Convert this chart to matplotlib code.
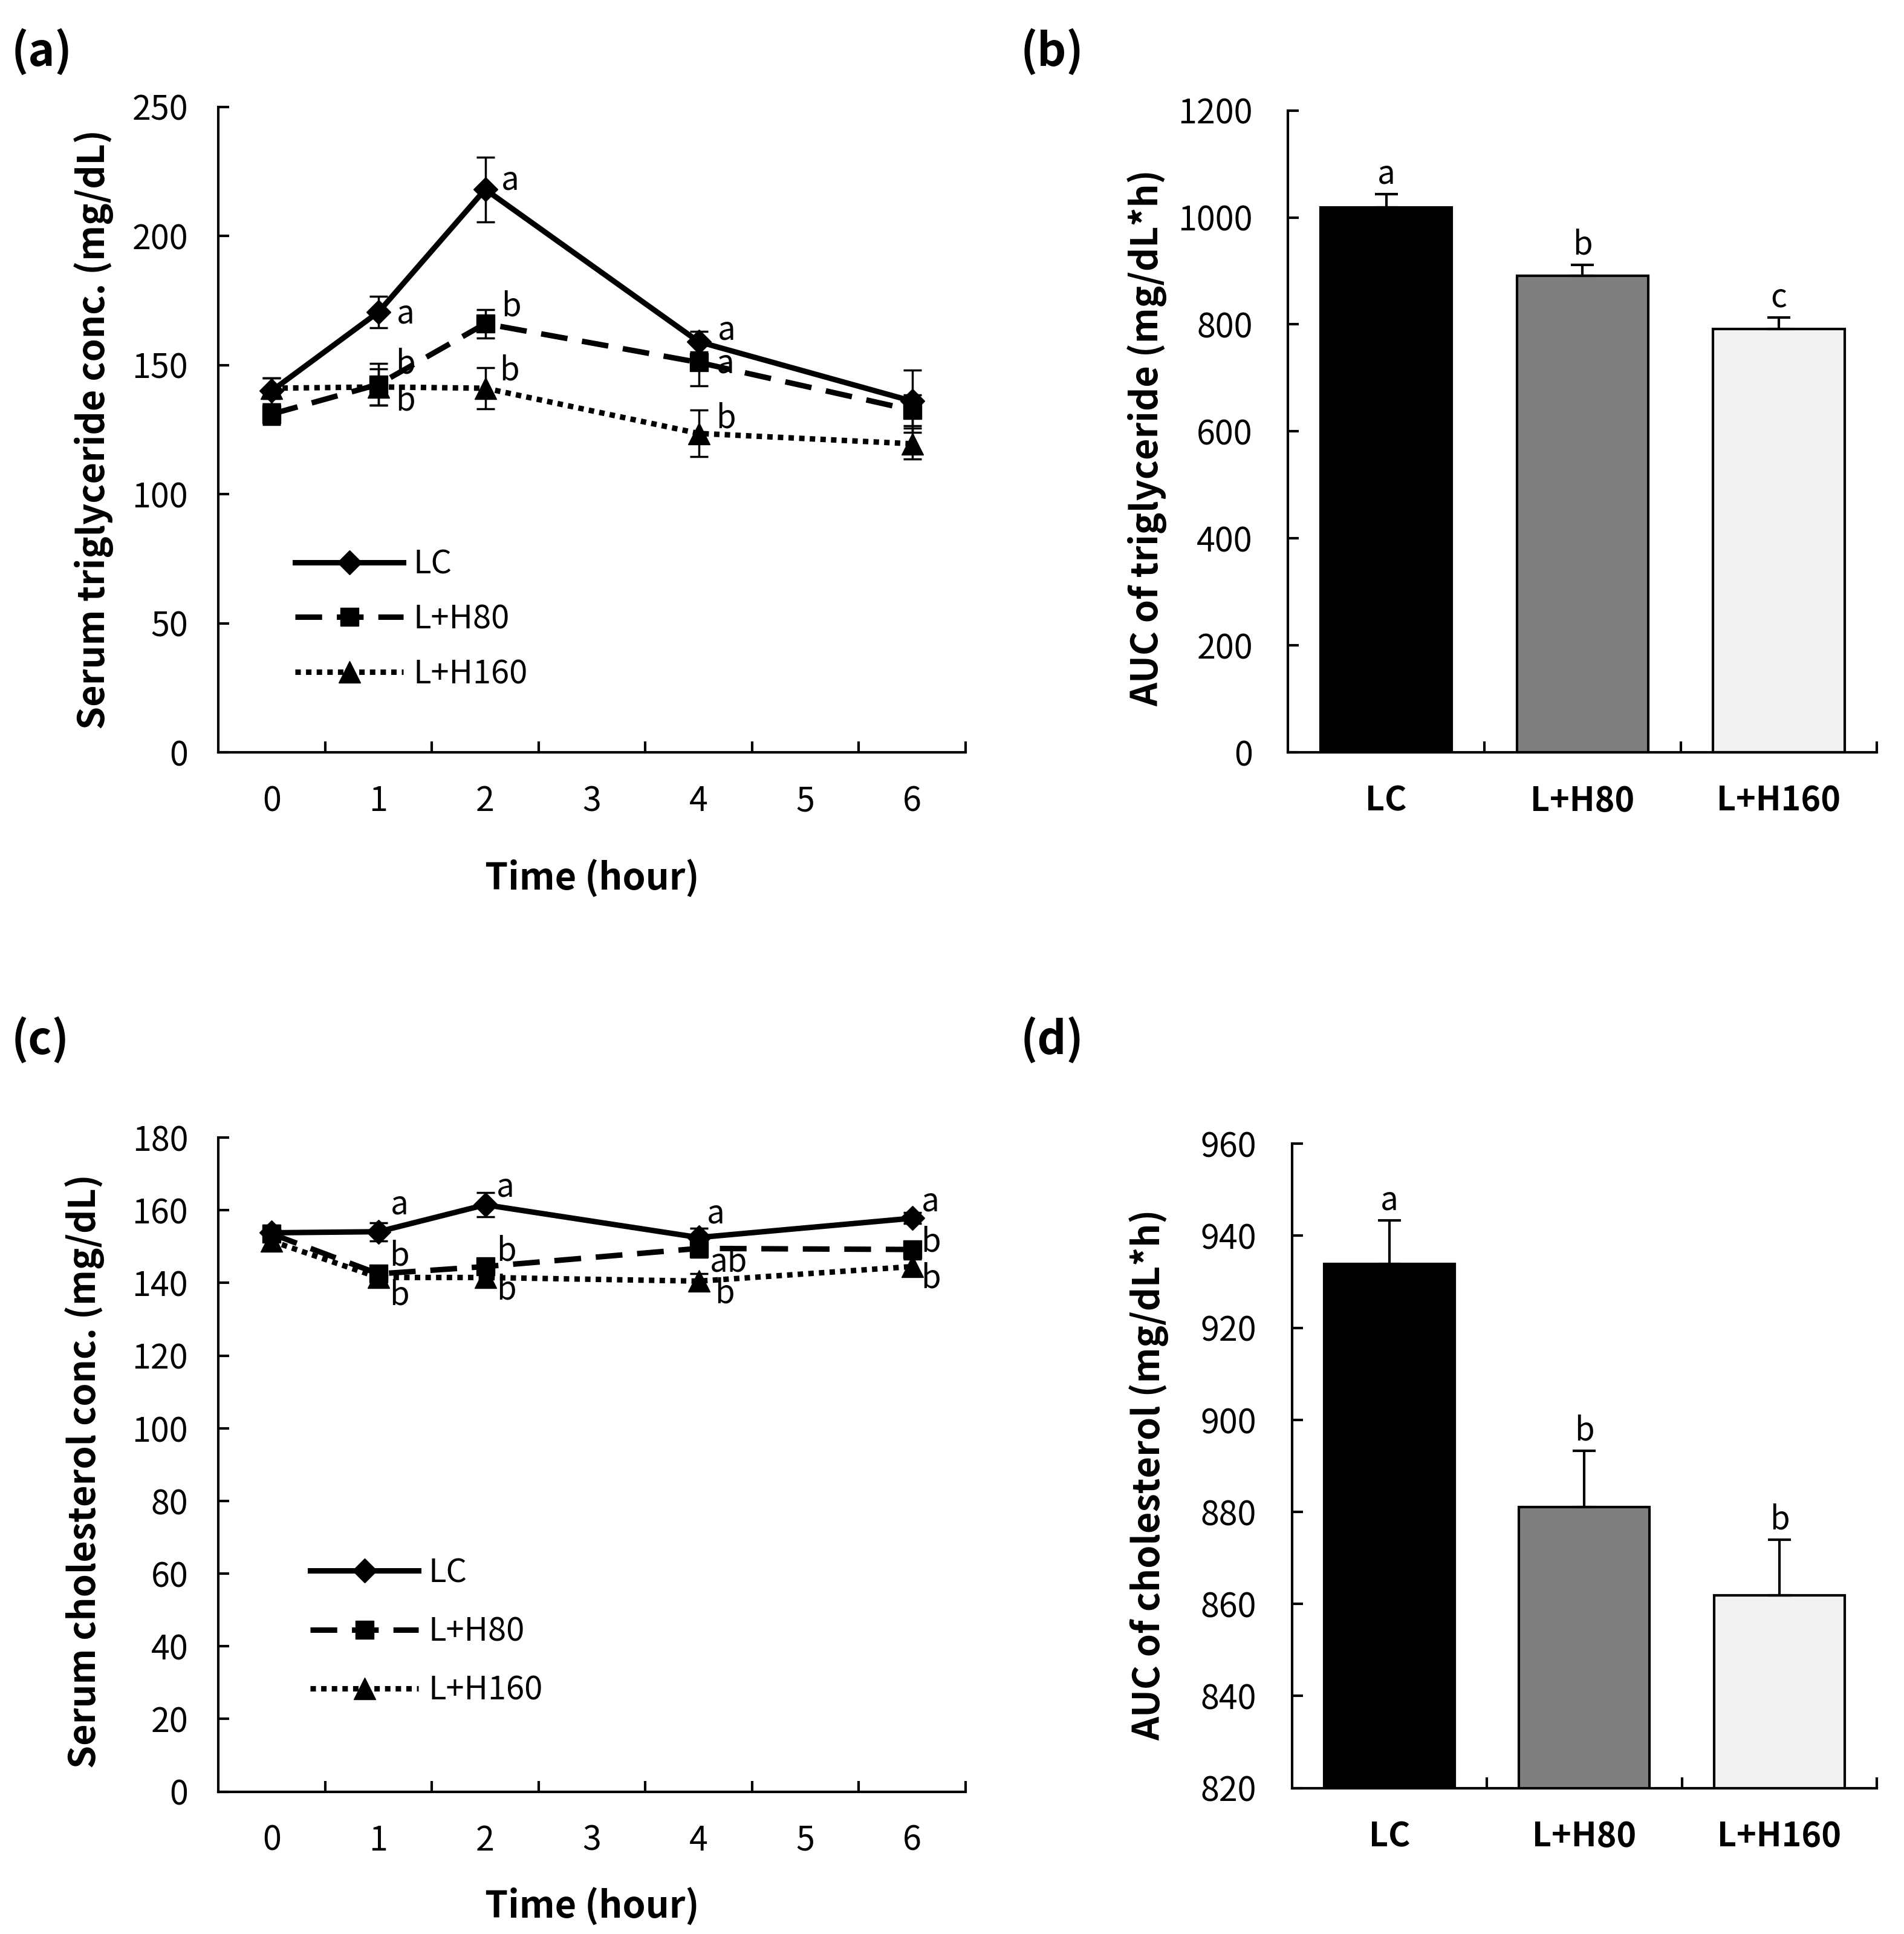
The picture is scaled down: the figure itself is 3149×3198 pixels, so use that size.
import matplotlib
matplotlib.use("Agg")
import matplotlib.pyplot as plt
import numpy as np

plt.rcParams['font.family'] = ['Noto Sans CJK KR', 'DejaVu Sans']

# ---------------- data ----------------
time_labels = ["0", "1", "2", "3", "4", "5", "6"]
time_idx = [0, 1, 2, 4, 6]          # category positions of sampled hours
groups = ["LC", "L+H80", "L+H160"]

tg_lc = [140, 170.5, 218, 159, 136]
tg_lc_err = [5, 6, 12.5, 4, 12]
tg_h80 = [131, 142.5, 166, 151, 132.5]
tg_h80_err = [4, 8, 5.5, 9, 6]
tg_h160 = [141, 141.5, 141, 123.5, 119.5]
tg_h160_err = [4, 7, 8, 9, 6]

tg_auc = [1019, 891, 791]
tg_auc_err = [25, 20, 22]
tg_auc_letters = ["a", "b", "c"]

ch_lc = [153.8, 154.1, 161.5, 152.5, 157.8]
ch_lc_err = [2, 2.5, 3.3, 2.5, 1.5]
ch_h80 = [153.5, 142.5, 144.5, 149.5, 149.2]
ch_h80_err = [2, 2, 2, 2.5, 2]
ch_h160 = [151.5, 141.5, 141.5, 140.5, 144.5]
ch_h160_err = [2, 2, 2, 2, 2]

ch_auc = [933.9, 881.0, 861.8]
ch_auc_err = [9.4, 12.3, 12.1]
ch_auc_letters = ["a", "b", "b"]

# significance letters for line charts: (series, time index position, letter, dx pt, dy pt)
tg_letters = [
    ("LC", 1, "a", 32, -2), ("LC", 2, "a", 30, 11), ("LC", 3, "a", 33, 14),
    ("L+H80", 1, "b", 32, 24), ("L+H80", 2, "b", 31, 20), ("L+H80", 3, "a", 32, -1),
    ("L+H160", 1, "b", 32, -17), ("L+H160", 2, "b", 29, 21), ("L+H160", 3, "b", 32, 18),
]
ch_letters = [
    ("LC", 1, "a", 25, 32), ("LC", 2, "a", 24, 21), ("LC", 3, "a", 20, 28), ("LC", 4, "a", 22, 20),
    ("L+H80", 1, "b", 25, 21), ("L+H80", 2, "b", 25, 18), ("L+H80", 3, "ab", 36, -16), ("L+H80", 4, "b", 22, 9),
    ("L+H160", 1, "b", 25, -21), ("L+H160", 2, "b", 25, -15), ("L+H160", 3, "b", 31, -15), ("L+H160", 4, "b", 22, -14),
]

bar_colors = ["#000000", "#7f7f7f", "#f2f2f2"]

# ---------------- style ----------------
TICK_FS = 40
BAR_XTICK_FS = 42
LABEL_FS = 44
LETTER_FS = 38
LEGEND_FS = 39
PANEL_FS = 54
LW = 6.5
styles = {
    "LC": dict(linestyle="-", marker="D", markersize=20),
    "L+H80": dict(linestyle=(0, (4.9, 2.7)), marker="s", markersize=22),
    "L+H160": dict(linestyle=(0, (1.0, 0.95)), marker="^", markersize=26),
}

fig = plt.figure(figsize=(31.49, 31.98), dpi=100)

def style_axes(ax, ypad):
    for s in ["top", "right"]:
        ax.spines[s].set_visible(False)
    for s in ["left", "bottom"]:
        ax.spines[s].set_linewidth(3)
    ax.tick_params(axis="y", direction="in", length=13, width=3, pad=ypad,
                   labelsize=TICK_FS)
    ax.tick_params(axis="x", which="major", length=0, pad=38, labelsize=TICK_FS)
    ax.tick_params(axis="x", which="minor", direction="in", length=13, width=3)


def line_panel(ax, series, errs, ylim, yticks, ylabel, letters, leg_anchor, leg_spacing):
    handles = []
    for name, vals, err in zip(groups, series, errs):
        st = styles[name]
        cont = ax.errorbar(time_idx, vals, yerr=err, color="black", lw=LW,
                           linestyle=st["linestyle"], marker=st["marker"],
                           markersize=st["markersize"], ecolor="black",
                           elinewidth=2.5, capsize=11, capthick=2.5, zorder=3)
        handles.append(cont[0])
    lookup = dict(zip(groups, series))
    for name, i, txt, dx, dy in letters:
        ax.annotate(txt, (time_idx[i], lookup[name][i]), xytext=(dx, dy),
                    textcoords="offset points", ha="center", va="center",
                    fontsize=LETTER_FS, zorder=4)
    ax.set_xlim(-0.5, 6.5)
    ax.set_xticks(range(len(time_labels)))
    ax.set_xticklabels(time_labels)
    ax.set_xticks(np.arange(0.5, 6.6, 1.0), minor=True)
    ax.set_ylim(*ylim)
    ax.set_yticks(yticks)
    style_axes(ax, 36)
    ax.set_ylabel(ylabel, fontsize=LABEL_FS, fontweight="bold")
    ax.set_xlabel("Time (hour)", fontsize=LABEL_FS, fontweight="bold")
    ax.legend(handles, groups, loc="upper left", bbox_to_anchor=leg_anchor,
              frameon=False, fontsize=LEGEND_FS, handlelength=3.3,
              handletextpad=0.3, labelspacing=leg_spacing, borderpad=0,
              borderaxespad=0, numpoints=1)


def bar_panel(ax, vals, errs, letters, ylim, yticks, ylabel):
    x = np.arange(len(groups))
    ax.bar(x, vals, width=0.67, color=bar_colors, edgecolor="black", linewidth=3,
           zorder=2)
    ax.errorbar(x, vals, yerr=[np.zeros(len(errs)), errs], fmt="none",
                ecolor="black", elinewidth=3, capsize=14, capthick=3, zorder=3)
    for xi, v, e, t in zip(x, vals, errs, letters):
        ax.annotate(t, (xi, v + e), xytext=(0, 4), textcoords="offset points",
                    ha="center", va="bottom", fontsize=LETTER_FS)
    ax.set_xlim(-0.5, 2.5)
    ax.set_xticks(x)
    ax.set_xticklabels(groups, fontsize=BAR_XTICK_FS, fontweight="bold")
    ax.set_xticks([0.5, 1.5, 2.5], minor=True)
    ax.set_ylim(*ylim)
    ax.set_yticks(yticks)
    style_axes(ax, 42)
    ax.set_ylabel(ylabel, fontsize=LABEL_FS, fontweight="bold")


# (a)
ax_a = fig.add_axes([0.1147, 0.611, 0.3924, 0.3338])
line_panel(ax_a, [tg_lc, tg_h80, tg_h160], [tg_lc_err, tg_h80_err, tg_h160_err],
           (0, 250), np.arange(0, 251, 50), "Serum triglyceride conc. (mg/dL)",
           tg_letters, (0.103, 0.317), 0.66)
ax_a.yaxis.set_label_coords(-0.14, 0.5)
ax_a.xaxis.set_label_coords(0.5, -0.166)

# (b)
ax_b = fig.add_axes([0.6765, 0.611, 0.3093, 0.3319])
bar_panel(ax_b, tg_auc, tg_auc_err, tg_auc_letters, (0, 1200),
          np.arange(0, 1201, 200), "AUC of triglyceride (mg/dL*h)")
ax_b.yaxis.set_label_coords(-0.205, 0.49)

# (c)
ax_c = fig.add_axes([0.1147, 0.0736, 0.3924, 0.3382])
line_panel(ax_c, [ch_lc, ch_h80, ch_h160], [ch_lc_err, ch_h80_err, ch_h160_err],
           (0, 180), np.arange(0, 181, 20), "Serum cholesterol conc. (mg/dL)",
           ch_letters, (0.123, 0.36), 0.78)
ax_c.yaxis.set_label_coords(-0.152, 0.49)
ax_c.xaxis.set_label_coords(0.5, -0.147)

# (d)
ax_d = fig.add_axes([0.6785, 0.0755, 0.3073, 0.3331])
bar_panel(ax_d, ch_auc, ch_auc_err, ch_auc_letters, (820, 960),
          np.arange(820, 961, 20), "AUC of cholesterol (mg/dL*h)")
ax_d.yaxis.set_label_coords(-0.21, 0.486)

for txt, xf, yf in [("(a)", 0.006, 0.973), ("(b)", 0.536, 0.973),
                    ("(c)", 0.006, 0.462), ("(d)", 0.536, 0.462)]:
    fig.text(xf, yf, txt, fontsize=PANEL_FS, fontweight="bold", ha="left", va="center")

fig.savefig("out.png", dpi=100)
